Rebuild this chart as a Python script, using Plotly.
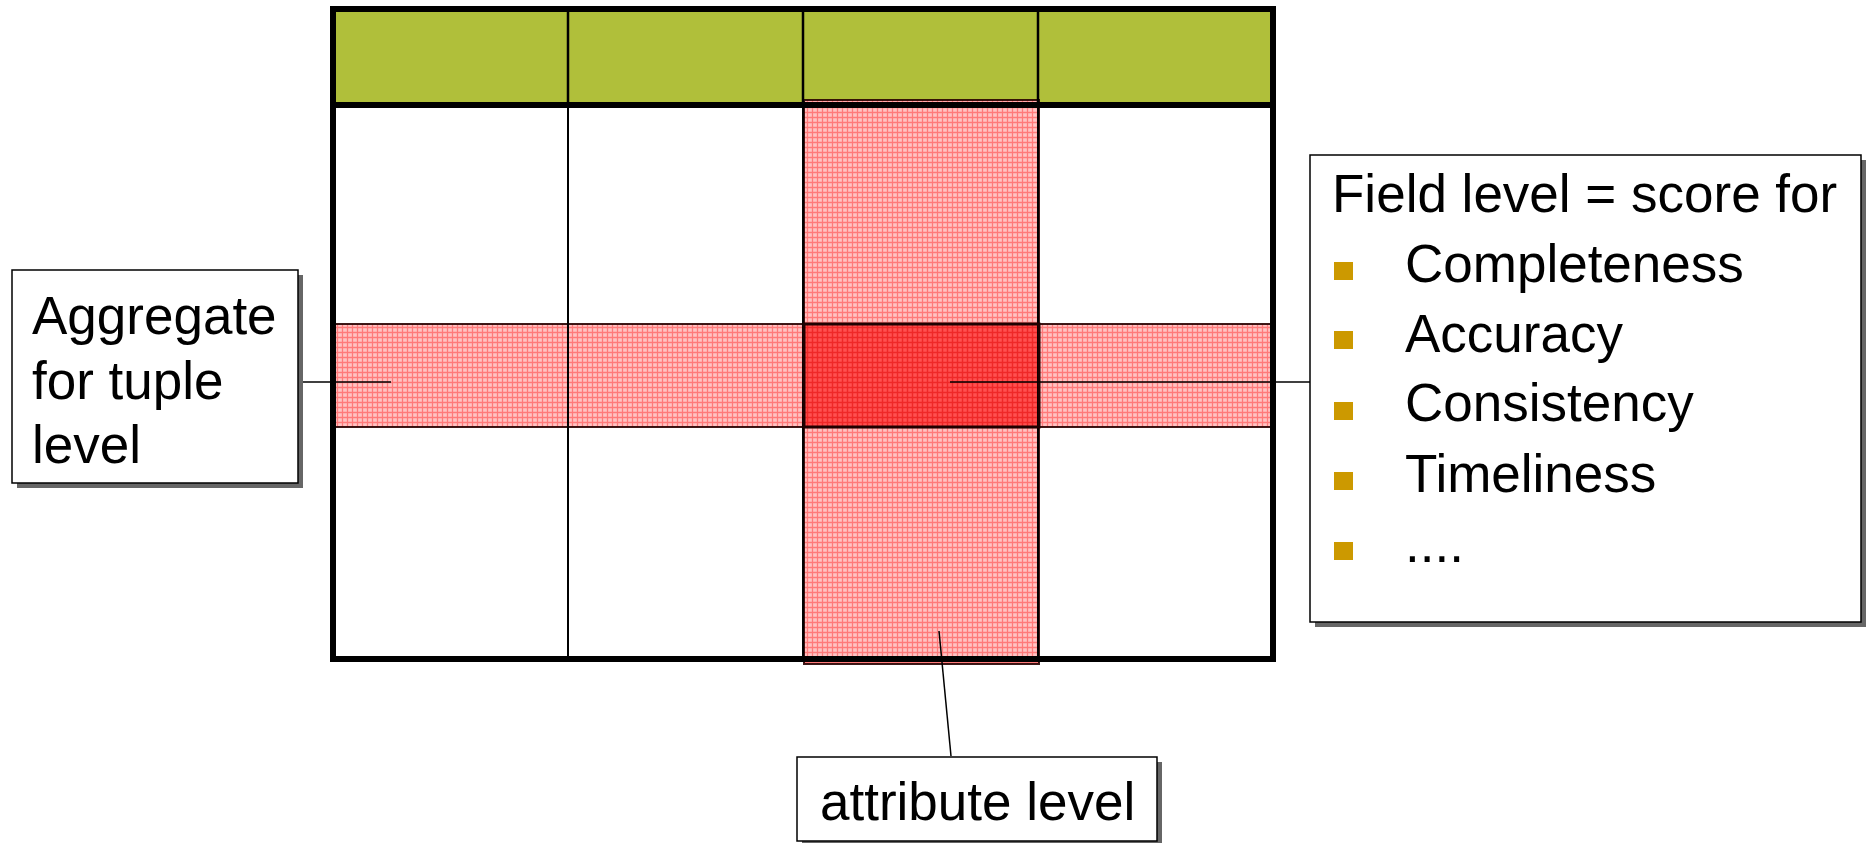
import plotly.graph_objects as go

# ---- content (text) ----
left_label_lines = ["Aggregate", "for tuple", "level"]
right_title = "Field level = score for"
bullet_items = ["Completeness", "Accuracy", "Consistency", "Timeliness", "...."]
bottom_label = "attribute level"

# ---- table geometry (pixel space, y downward) ----
table_x = [333, 568, 803, 1038, 1273]      # column boundaries
table_y = [9, 105, 659]                     # top, header bottom, bottom
hband_y = [324, 427]                        # tuple band
vband_x = [804, 1039]                       # attribute band
vband_y = [100, 664]

W, H = 1868, 843
FONT = "Liberation Sans, Arial, sans-serif"
FS = 53

fig = go.Figure()
shapes = []

def rect(x0, y0, x1, y1, fill=None, line="black", lw=0, layer="above"):
    shapes.append(dict(type="rect", x0=x0, y0=y0, x1=x1, y1=y1, xref="x", yref="y",
                       fillcolor=fill if fill else "rgba(0,0,0,0)",
                       line=dict(color=line, width=lw), layer=layer))

def line(x0, y0, x1, y1, color="black", lw=1.5, layer="above"):
    shapes.append(dict(type="line", x0=x0, y0=y0, x1=x1, y1=y1, xref="x", yref="y",
                       line=dict(color=color, width=lw), layer=layer))

# header fill + body
rect(table_x[0], table_y[0], table_x[-1], table_y[1], fill="#B0BF3A", layer="below")
rect(table_x[0], table_y[1], table_x[-1], table_y[2], fill="white", layer="below")

# patterned bands as filled scatter traces
def band(x0, x1, y0, y1, fg, bg, size, sol):
    fig.add_trace(go.Scatter(
        x=[x0, x1, x1, x0, x0], y=[y0, y0, y1, y1, y0], mode="lines",
        fill="toself", line=dict(color="rgba(40,0,0,0.9)", width=2),
        fillpattern=dict(shape="+", fgcolor=fg, bgcolor=bg, size=size, solidity=sol),
        hoverinfo="skip", showlegend=False))

band(table_x[0] + 2, table_x[-1] - 2, hband_y[0], hband_y[1], "#ff3030", "#ffc4c4", 5, 0.45)
band(vband_x[0], vband_x[1], vband_y[0], vband_y[1], "#ff3030", "#ffc4c4", 5, 0.45)
band(vband_x[0], vband_x[1], hband_y[0], hband_y[1], "#e00000", "#ff5050", 5, 0.5)

# table lines
for xc in table_x[1:-1]:
    line(xc, table_y[0], xc, table_y[1], lw=2.5)
    line(xc, table_y[1], xc, table_y[2], lw=2)
line(table_x[0], table_y[1], table_x[-1], table_y[1], lw=6)
rect(table_x[0], table_y[0], table_x[-1], table_y[2], line="black", lw=6)
# band outlines on top
rect(vband_x[0], hband_y[0], vband_x[1], hband_y[1], line="#200000", lw=3)

# connector lines
line(298, 382, 391, 382)
line(950, 382, 1310, 382)
line(939, 631, 951, 756)

# callout boxes with shadows
def callout(x0, y0, x1, y1):
    rect(x0 + 5, y0 + 5, x1 + 5, y1 + 5, fill="#666666", lw=0)
    rect(x0, y0, x1, y1, fill="white", line="black", lw=1.5)

callout(12, 270, 298, 483)
callout(1310, 155, 1861, 622)
callout(797, 757, 1157, 841)

annotations = []
def text(x, y, s, xanchor="left"):
    annotations.append(dict(x=x, y=y, xref="x", yref="y", text=s, showarrow=False,
                            xanchor=xanchor, yanchor="middle",
                            font=dict(family=FONT, size=FS, color="black")))

left_y = [313, 378, 442]
for s, yy in zip(left_label_lines, left_y):
    text(30, yy + 2, s)

text(1330, 194 - 1, right_title)
item_y = [264, 334, 403, 474, 544]
bullet_y = [271, 340, 411, 481, 551]
for s, yy in zip(bullet_items, item_y):
    text(1403, yy - 1, s)
for by in bullet_y:
    rect(1334, by - 9, 1353, by + 9, fill="#CC9900", lw=0)

text(977, 801, bottom_label, xanchor="center")

fig.update_layout(
    width=W, height=H, margin=dict(l=0, r=0, t=0, b=0),
    plot_bgcolor="white", paper_bgcolor="white",
    xaxis=dict(range=[0, W], visible=False, fixedrange=True),
    yaxis=dict(range=[H, 0], visible=False, fixedrange=True),
    shapes=shapes, annotations=annotations, showlegend=False,
)
fig.write_html(
    "out.html",
    config={"displayModeBar": False},
    post_script="document.body.style.margin='0';document.body.style.overflow='hidden';",
)
